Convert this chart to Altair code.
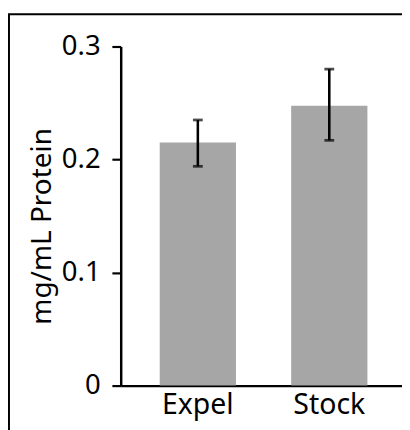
import altair as alt
import pandas as pd

categories = ["Expel", "Stock"]
means = [0.215, 0.2475]
err_low = [0.194, 0.217]
err_high = [0.235, 0.280]

df = pd.DataFrame({"cat": categories, "mean": means, "lo": err_low, "hi": err_high})

FONT = "Noto Sans"
W, H = 287, 346

xscale = alt.Scale(paddingInner=0.42, paddingOuter=0.28, align=0.53)
yscale = alt.Scale(domain=[0, 0.3], nice=False, zero=True)

x_enc = alt.X("cat:N", scale=xscale, sort=categories,
              axis=alt.Axis(title=None, ticks=False, labelAngle=0, labelFontSize=29,
                            labelFont=FONT, labelColor="black", labelPadding=5,
                            domainColor="black", domainWidth=2.5, labelBaseline="top"))

base = alt.Chart(df)

bars = base.mark_bar(color="#a5a6a5").encode(
    x=x_enc,
    y=alt.Y("mean:Q", scale=yscale,
            axis=alt.Axis(values=[0, 0.1, 0.2, 0.3],
                          labelExpr="datum.value == 0 ? '0' : format(datum.value, '.1f')",
                          labelFontSize=28, labelFont=FONT, labelColor="black",
                          labelPadding=12, tickSize=9, tickWidth=2.2, tickColor="black",
                          domainColor="black", domainWidth=2.5, grid=False,
                          title="mg/mL Protein", titleFont=FONT, titleFontSize=28.5,
                          titleFontWeight="normal", titleColor="black",
                          titleAngle=-90, titleX=-81, titleY=183,
                          titleAlign="center", titleBaseline="middle")),
)

stems = base.mark_rule(color="black", strokeWidth=2.6).encode(
    x=alt.X("cat:N", scale=xscale, sort=categories),
    y=alt.Y("lo:Q", scale=yscale),
    y2="hi:Q",
)
caps_hi = base.mark_tick(color="black", size=10, thickness=2.8, orient="horizontal").encode(
    x=alt.X("cat:N", scale=xscale, sort=categories),
    y=alt.Y("hi:Q", scale=yscale),
)
caps_lo = base.mark_tick(color="black", size=10, thickness=2.8, orient="horizontal").encode(
    x=alt.X("cat:N", scale=xscale, sort=categories),
    y=alt.Y("lo:Q", scale=yscale),
)

frame_data = alt.Data(values=[{"k": 1}])
frame_v = alt.Chart(frame_data).mark_rule(color="black", strokeWidth=2).encode(
    x=alt.value(-114), y=alt.value(-33), y2=alt.value(420))
frame_h = alt.Chart(frame_data).mark_rule(color="black", strokeWidth=2).encode(
    x=alt.value(-115), x2=alt.value(300), y=alt.value(-33))

chart = alt.layer(bars, stems, caps_hi, caps_lo, frame_v, frame_h).properties(
    width=W, height=H,
    background="white",
    autosize=alt.AutoSizeParams(type="none"),
    padding={"left": 115, "top": 35, "right": 0, "bottom": 41},
).configure_view(stroke=None).configure_axis(grid=False)

chart.save("out.html", embed_options={"renderer": "svg", "actions": False})
